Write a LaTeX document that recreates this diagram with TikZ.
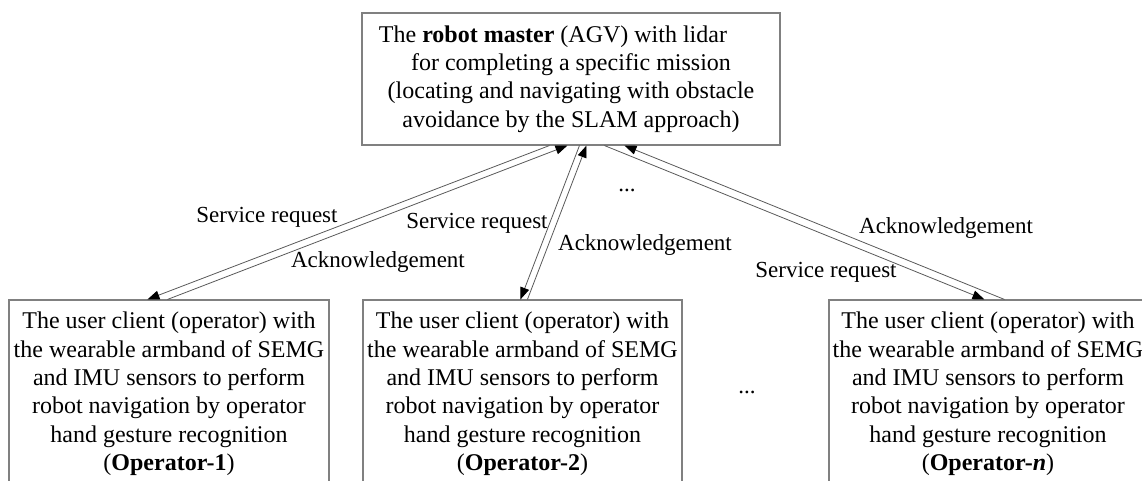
\documentclass[tikz,border=0pt]{standalone}
\usepackage{fontspec}
\setmainfont{Liberation Serif}
\usetikzlibrary{arrows.meta}

\tikzset{
  box/.style={draw=black!50, line width=1.1pt, rectangle, inner sep=0pt,
    align=center, font=\fontsize{24}{28.4}\selectfont},
  link/.style={draw=black!65, line width=0.8pt},
  tipend/.style={-{Triangle[length=12pt,width=9pt,color=black,fill=black]}},
  tipstart/.style={{Triangle[length=12pt,width=9pt,color=black,fill=black]}-},
  lbl/.style={font=\fontsize{23}{27}\selectfont, inner sep=0pt},
}

\begin{document}
\begin{tikzpicture}[x=1pt, y=-1pt]
  \useasboundingbox (0,0) rectangle (1142,481);
  \clip (0,0) rectangle (1142,481);

  % robot master
  \node[box, minimum width=418pt, minimum height=132pt] (top) at (571,79)
    {The \textbf{robot master} (AGV) with lidar\rule{36pt}{0pt}\\
     for completing a specific mission\\
     (locating and navigating with obstacle\\
     avoidance by the SLAM approach)};

  % operator clients (lower edges run past the page)
  \node[box, minimum width=320pt, minimum height=188pt] (op1) at (169,394)
    {The user client (operator) with\\
     the wearable armband of SEMG\\
     and IMU sensors to perform\\
     robot navigation by operator\\
     hand gesture recognition\\
     (\textbf{Operator-1})};
  \node[box, minimum width=319pt, minimum height=188pt] (op2) at (522.5,394)
    {The user client (operator) with\\
     the wearable armband of SEMG\\
     and IMU sensors to perform\\
     robot navigation by operator\\
     hand gesture recognition\\
     (\textbf{Operator-2})};
  \node[box, minimum width=318pt, minimum height=188pt] (opn) at (988,394)
    {The user client (operator) with\\
     the wearable armband of SEMG\\
     and IMU sensors to perform\\
     robot navigation by operator\\
     hand gesture recognition\\
     (\textbf{Operator-\textit{n}})};

  % request / acknowledgement links
  \draw[link, tipstart] ([xshift=139pt]op1.north west) -- ([xshift=188pt]top.south west);
  \draw[link, tipend]   ([xshift=159pt]op1.north west) -- ([xshift=206pt]top.south west);

  \draw[link, tipstart] ([xshift=158pt]op2.north west) -- ([xshift=218pt]top.south west);
  \draw[link, tipend]   ([xshift=165pt]op2.north west) -- ([xshift=225pt]top.south west);

  \draw[link, tipend]   ([xshift=243pt]top.south west) -- ([xshift=156pt]opn.north west);
  \draw[link, tipstart] ([xshift=263pt]top.south west) -- ([xshift=176pt]opn.north west);

  % labels
  \node[lbl] (sr1) at (267,217) {Service request};
  \node[lbl] (ak1) at (378,262) {Acknowledgement};
  \node[lbl] (sr2) at (477,223) {Service request};
  \node[lbl] (ak2) at (645,245) {Acknowledgement};
  \node[lbl] (akn) at (946,228) {Acknowledgement};
  \node[lbl] (srn) at (826,272) {Service request};

  % ellipses
  \node[lbl] (dotsup) at (627,190) {...};
  \node[lbl] (dotsdn) at (747,392) {...};
\end{tikzpicture}
\end{document}
